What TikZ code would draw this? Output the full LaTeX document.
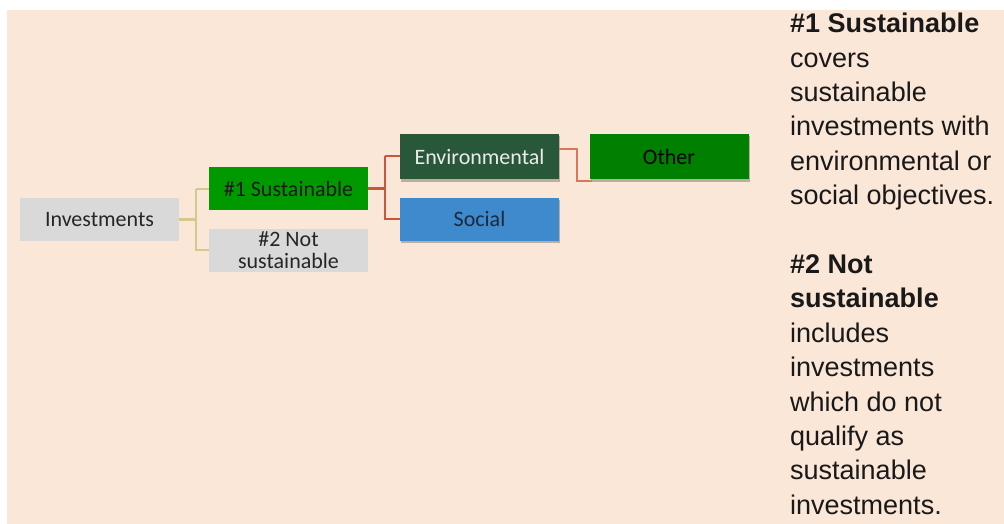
\documentclass[tikz,border=0pt]{standalone}
\usepackage{fontspec}
\setmainfont{Liberation Sans}
\newfontfamily\boxfont{Carlito}
\usetikzlibrary{shadows}
\definecolor{bgpeach}{HTML}{FAE7D7}
\definecolor{boxgray}{HTML}{D9D9D9}
\definecolor{susgreen}{HTML}{009900}
\definecolor{envgreen}{HTML}{285839}
\definecolor{socblue}{HTML}{3E8ACD}
\definecolor{othgreen}{HTML}{007F00}
\definecolor{olivelink}{HTML}{D4C98B}
\definecolor{redlink}{HTML}{C9563A}
\definecolor{redlight}{HTML}{D9775C}
\definecolor{soctext}{HTML}{1E2A3A}
\tikzset{
  treebox/.style={minimum width=159pt, minimum height=43pt, inner sep=0pt, font=\boxfont\fontsize{22}{24}\selectfont},
  shadowbox/.style={treebox, drop shadow={shadow xshift=1pt, shadow yshift=-2.5pt, opacity=0.25, fill=black}},
  olivestem/.style={draw=olivelink, line width=3pt},
  olivebranch/.style={draw=olivelink, line width=2pt},
  redstem/.style={draw=redlink, line width=3pt},
  redbranch/.style={draw=redlink, line width=2pt},
  redthin/.style={draw=redlight, line width=2pt},
}
\begin{document}
\begin{tikzpicture}[x=1pt,y=-1pt]
\useasboundingbox (0,0) rectangle (1004,524);
\fill[white] (0,0) rectangle (1004,524);
\fill[bgpeach] (7,10) rectangle (1004,524);

\node[treebox, fill=boxgray, text=black!85] (inv) at (99.5,219.5) {Investments};
\node[treebox, fill=susgreen, text=black!90] (s1) at (288.5,188.5) {\#1 Sustainable};
\node[treebox, fill=boxgray, text=black!85, align=center, font=\boxfont\fontsize{22}{22}\selectfont] (s2) at (288.5,250) {\#2 Not\\sustainable};
\node[shadowbox, fill=envgreen, text=white!92!black, minimum height=45pt] (env) at (479.5,156.5) {Environmental};
\node[shadowbox, fill=socblue, text=soctext] (soc) at (479.5,219) {Social};
\node[shadowbox, fill=othgreen, text=black, minimum height=45pt] (oth) at (669,156.5) {Other};

\coordinate (j1) at (196,219.5);
\draw[olivestem] (inv.east) -- (j1);
\draw[olivebranch] (j1 |- s1.west) -- (s1.west);
\draw[olivebranch] (j1 |- s1.west) -- (j1 |- s2.west) -- (s2.west);

\coordinate (j2) at (385,188.5);
\draw[redstem] (s1.east) -- (j2);
\draw[redbranch] (j2 |- env.west) -- (env.west);
\draw[redbranch] (j2 |- env.west) -- (j2 |- soc.west) -- (soc.west);

\coordinate (k1) at (577,149);
\coordinate (k2) at (592,180.5);
\draw[redthin] (env.east |- k1) -- (k1) |- (k2);

\node[anchor=north west, inner sep=0pt, align=left, text=black!90,
      font=\fontsize{27}{34.4}\selectfont] (desc) at (790,13)
{\textbf{\#1 Sustainable}\\covers\\sustainable\\investments with\\environmental or\\social objectives.\\[34.4pt]
\textbf{\#2 Not}\\\textbf{sustainable}\\includes\\investments\\which do not\\qualify as\\sustainable\\investments.};
\end{tikzpicture}
\end{document}
